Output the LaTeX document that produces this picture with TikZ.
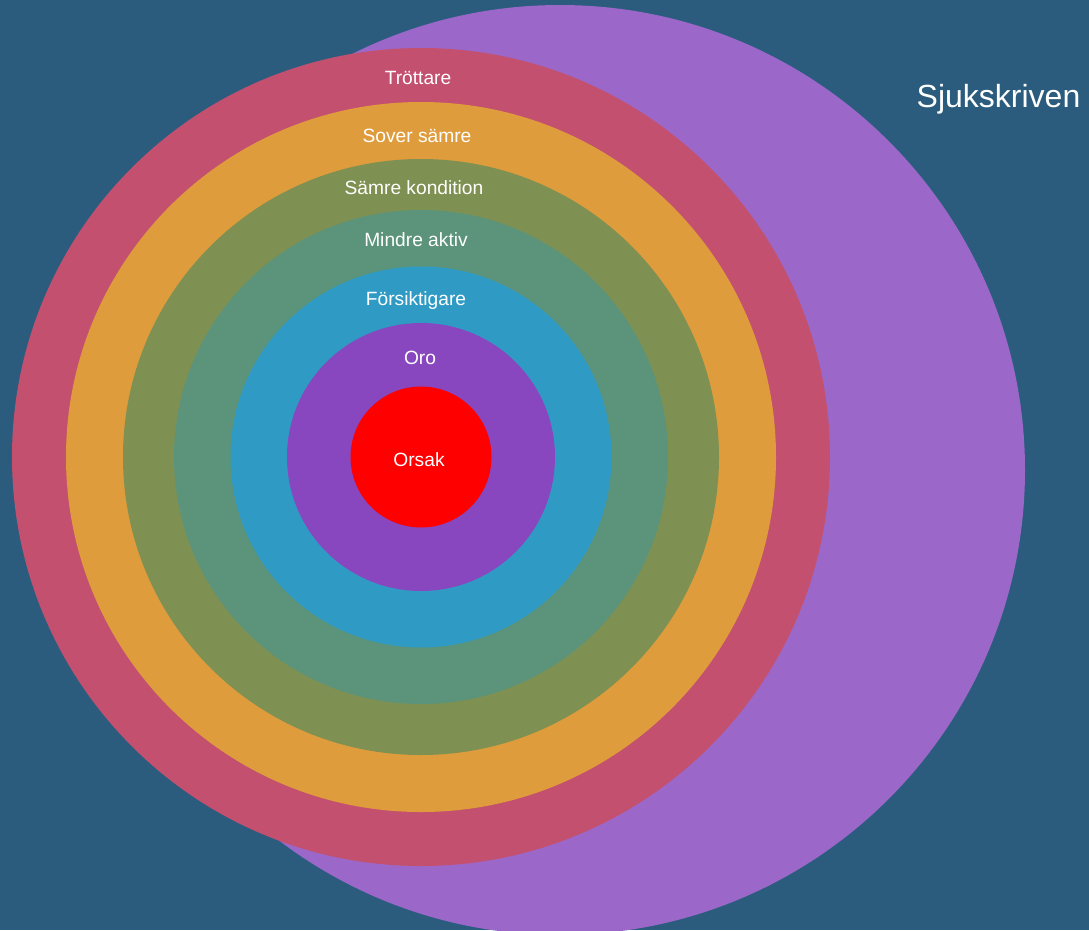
\documentclass[tikz,border=0pt]{standalone}
\usepackage{fontspec}
\setmainfont{Liberation Sans}
\definecolor{bg}{HTML}{2B5C7E}
\definecolor{bigpurple}{HTML}{9B68C9}
\definecolor{cpink}{HTML}{C4506F}
\definecolor{corange}{HTML}{DE9C3D}
\definecolor{colive}{HTML}{7E9152}
\definecolor{cteal}{HTML}{5B937B}
\definecolor{cblue}{HTML}{2F9BC4}
\definecolor{cpurple}{HTML}{8847BF}
\definecolor{cred}{HTML}{FF0000}
\tikzset{
  ring/.style={circle, inner sep=0pt, draw=none},
  lbl/.style={text=white, font=\fontsize{19.2}{22}\selectfont, inner sep=0pt, anchor=base},
}
\begin{document}
\begin{tikzpicture}[x=1pt,y=-1pt]
\fill[bg] (0,0) rectangle (1089,930);
\useasboundingbox (0,0) rectangle (1089,930);
\node[ring, fill=bigpurple, minimum size=930] (big) at (560,470) {};
\node[ring, fill=cpink, minimum size=818] (r1) at (421,457) {};
\node[ring, fill=corange, minimum size=710] (r2) at (421,457) {};
\node[ring, fill=colive, minimum size=596] (r3) at (421,457) {};
\node[ring, fill=cteal, minimum size=494] (r4) at (421,457) {};
\node[ring, fill=cblue, minimum size=381] (r5) at (421,457) {};
\node[ring, fill=cpurple, minimum size=268] (r6) at (421,457) {};
\node[ring, fill=cred, minimum size=141] (r7) at (421,457) {};
\node[lbl] (t1) at (418,84) {Tröttare};
\node[lbl] (t2) at (417,142) {Sover sämre};
\node[lbl] (t3) at (414,194) {Sämre kondition};
\node[lbl] (t4) at (416,246) {Mindre aktiv};
\node[lbl] (t5) at (416,305) {Försiktigare};
\node[lbl] (t6) at (420,364) {Oro};
\node[lbl] (t7) at (419,466) {Orsak};
\node[text=white, font=\fontsize{32}{37}\selectfont, inner sep=0pt, anchor=base] (sj) at (998.5,107) {Sjukskriven};
\end{tikzpicture}
\end{document}
